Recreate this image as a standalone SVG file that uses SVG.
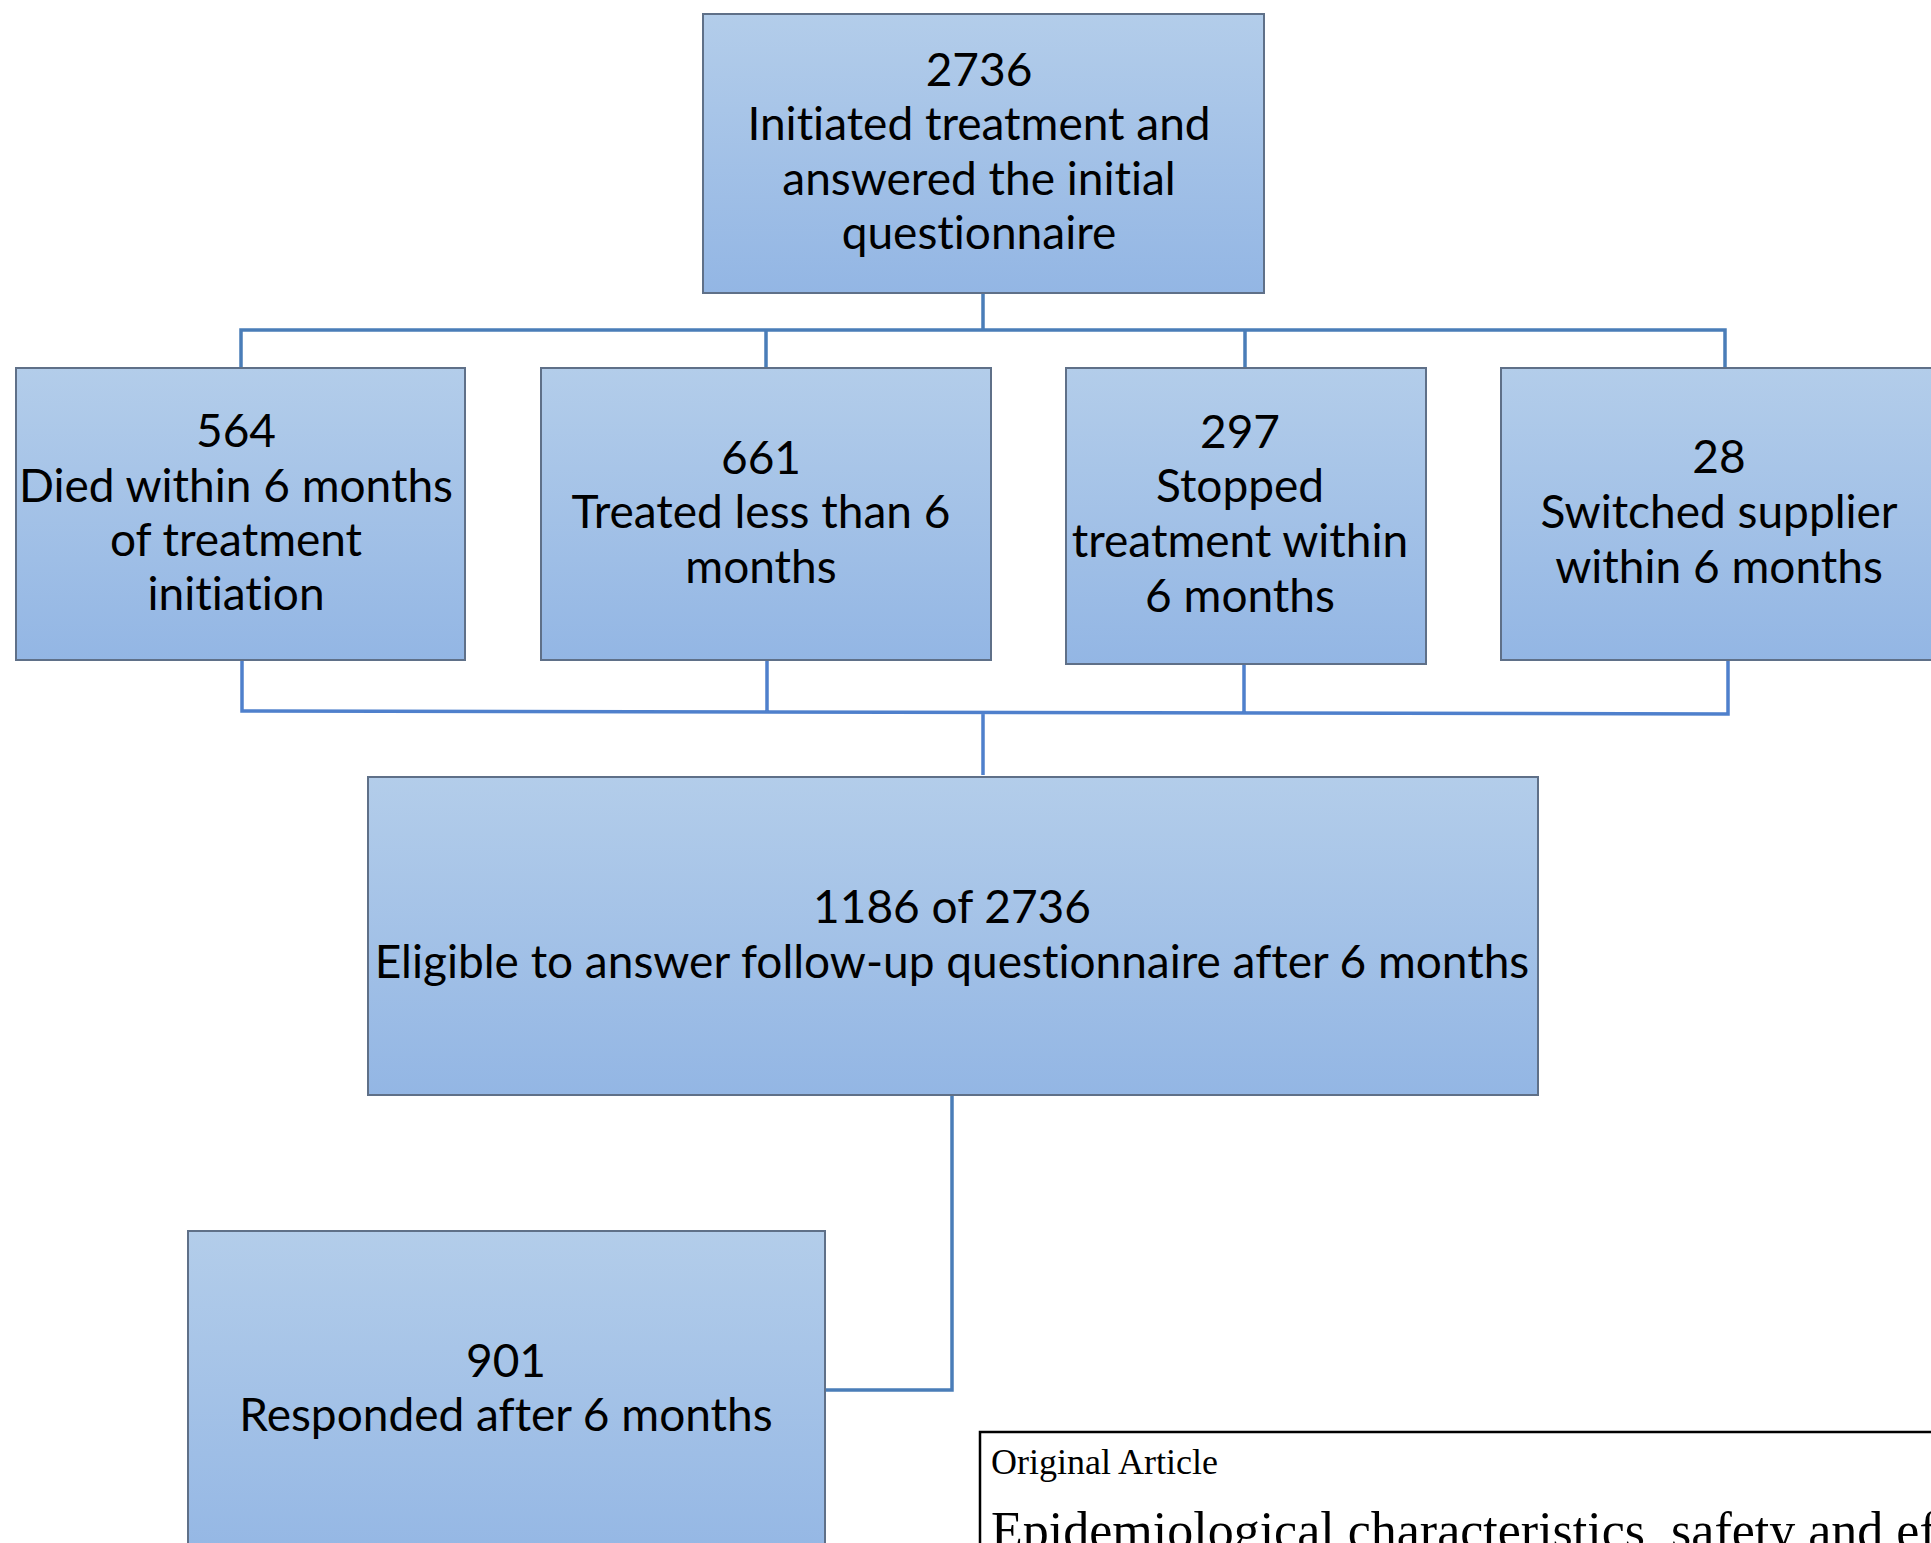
<svg xmlns="http://www.w3.org/2000/svg" width="1931" height="1543" viewBox="0 0 1931 1543">
<defs>
<linearGradient id="boxfill" x1="0" y1="0" x2="0" y2="1">
<stop offset="0" stop-color="#b3cdea"/>
<stop offset="1" stop-color="#93b6e4"/>
</linearGradient>
<style>
.box{fill:url(#boxfill);stroke:#5f7088;stroke-width:2}
.t{font-family:Lato,"Liberation Sans",sans-serif;font-size:46px;fill:#000;text-anchor:middle;font-variant-ligatures:none}
.c1{fill:none;stroke:#4a7db8;stroke-width:3.5}
.c2{fill:none;stroke:#4f80cc;stroke-width:3.5}
.art{font-family:"Liberation Serif",serif;fill:#000}
</style>
</defs>
<rect width="1931" height="1543" fill="#ffffff"/>
<g id="connectors">
<path class="c1" d="M983 293 V330 M241 368 V330 H1725 V368 M766 330 V368 M1245 330 V368"/>
<path class="c2" d="M242 660 V711 L1728 714 V660 M767 660 V712 M1244 664 V713 M983 713 V775"/>
<path class="c1" d="M952 1095 V1390 H825"/>
</g>
<g id="n-top">
<rect class="box" x="703" y="14" width="561" height="279"/>
<text class="t" x="979" y="86">2736</text>
<text class="t" x="979" y="140">Initiated treatment and</text>
<text class="t" x="979" y="195">answered the initial</text>
<text class="t" x="979" y="249">questionnaire</text>
</g>
<g id="n-died">
<rect class="box" x="16" y="368" width="449" height="292"/>
<text class="t" x="236" y="447">564</text>
<text class="t" x="236" y="502">Died within 6 months</text>
<text class="t" x="236" y="556">of treatment</text>
<text class="t" x="236" y="610">initiation</text>
</g>
<g id="n-treated">
<rect class="box" x="541" y="368" width="450" height="292"/>
<text class="t" x="761" y="474">661</text>
<text class="t" x="761" y="528">Treated less than 6</text>
<text class="t" x="761" y="583">months</text>
</g>
<g id="n-stopped">
<rect class="box" x="1066" y="368" width="360" height="296"/>
<text class="t" x="1240" y="448">297</text>
<text class="t" x="1240" y="502">Stopped</text>
<text class="t" x="1240" y="557">treatment within</text>
<text class="t" x="1240" y="612">6 months</text>
</g>
<g id="n-switched">
<rect class="box" x="1501" y="368" width="460" height="292"/>
<text class="t" x="1719" y="473">28</text>
<text class="t" x="1719" y="528">Switched supplier</text>
<text class="t" x="1719" y="583">within 6 months</text>
</g>
<g id="n-eligible">
<rect class="box" x="368" y="777" width="1170" height="318"/>
<text class="t" x="952" y="923">1186 of 2736</text>
<text class="t" x="952" y="978">Eligible to answer follow-up questionnaire after 6 months</text>
</g>
<g id="n-responded">
<rect class="box" x="188" y="1231" width="637" height="340"/>
<text class="t" x="506" y="1377">901</text>
<text class="t" x="506" y="1431">Responded after 6 months</text>
</g>
<g id="article">
<rect x="980" y="1432" width="1000" height="200" fill="#ffffff" stroke="#000" stroke-width="2.5"/>
<text class="art" x="991" y="1474" font-size="36">Original Article</text>
<text class="art" x="991" y="1548" font-size="52">Epidemiological characteristics, safety and eff</text>
</g>
</svg>
